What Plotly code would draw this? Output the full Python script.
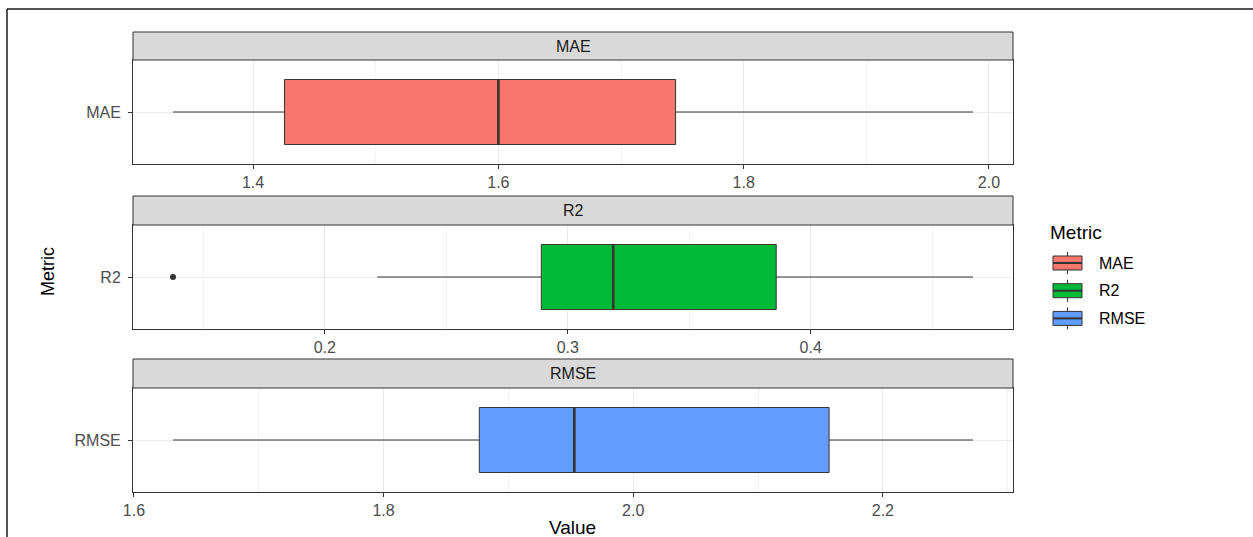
import plotly.graph_objects as go

# Summary statistics per metric (horizontal boxplots, one facet each)
metrics = ["MAE", "R2", "RMSE"]
lower_whisker = [1.3347, 0.2216, 1.6313]
q1_values = [1.4256, 0.2891, 1.8767]
median_values = [1.6000, 0.3187, 1.9528]
q3_values = [1.7445, 0.3858, 2.1569]
upper_whisker = [1.9870, 0.4668, 2.2722]
outliers = {"MAE": [], "R2": [0.1375], "RMSE": []}

fill_colors = ["#F8766D", "#00BA38", "#619CFF"]
major_dtick = [0.2, 0.1, 0.2]

W, H = 1253, 537
DARK = "#333333"
GRID = "#EBEBEB"
MINOR = "#F3F3F3"
FONT = "Liberation Sans, Arial, sans-serif"


def px(x):
    return x / W


def py(y):
    return 1 - y / H


# facet geometry in pixels: (strip top, panel top, panel bottom)
panel_left, panel_right = 133, 1013
facets = [(32, 60, 164), (196, 225, 329), (359, 388, 492)]

fig = go.Figure()
shapes = []
annotations = []
box_width = 0.75

for i, name in enumerate(metrics):
    n = "" if i == 0 else str(i + 1)
    xa, ya = "x" + n, "y" + n

    fig.add_trace(go.Box(
        y=[0], q1=[q1_values[i]], median=[median_values[i]], q3=[q3_values[i]],
        lowerfence=[lower_whisker[i]], upperfence=[upper_whisker[i]],
        orientation="h", width=box_width, whiskerwidth=0, boxpoints=False,
        fillcolor=fill_colors[i], line=dict(color=DARK, width=1),
        xaxis=xa, yaxis=ya, showlegend=False, name=name,
    ))
    # thicker median bar
    fig.add_trace(go.Scatter(
        x=[median_values[i], median_values[i]], y=[-box_width / 2, box_width / 2],
        mode="lines", line=dict(color=DARK, width=2.6),
        xaxis=xa, yaxis=ya, showlegend=False, hoverinfo="skip",
    ))
    if outliers[name]:
        fig.add_trace(go.Scatter(
            x=outliers[name], y=[0] * len(outliers[name]), mode="markers",
            marker=dict(color=DARK, size=6), xaxis=xa, yaxis=ya,
            showlegend=False,
        ))

    # free x scale with 5% expansion, like the faceted layout
    lo = min([lower_whisker[i]] + outliers[name])
    hi = upper_whisker[i]
    pad = 0.05 * (hi - lo)

    strip_top, top, bottom = facets[i]
    axis_common = dict(
        showline=True, mirror=True, linecolor=DARK, linewidth=1,
        ticks="outside", ticklen=4, tickcolor=DARK, tickwidth=1,
        tickfont=dict(family=FONT, size=16, color="#4D4D4D"),
        zeroline=False, showgrid=True, gridcolor=GRID, gridwidth=1,
        automargin=False,
    )
    fig.update_layout(**{
        "xaxis" + n: dict(
            axis_common, domain=[px(panel_left), px(panel_right)], anchor=ya,
            range=[lo - pad, hi + pad], tick0=0, dtick=major_dtick[i],
            tickformat=".1f",
            minor=dict(dtick=major_dtick[i] / 2, showgrid=True,
                       gridcolor=MINOR, gridwidth=1),
        ),
        "yaxis" + n: dict(
            axis_common, domain=[py(bottom), py(top)], anchor=xa,
            range=[-0.6, 0.6], tickvals=[0], ticktext=[name],
            ticklabelstandoff=4,
        ),
    })

    # facet strip
    shapes.append(dict(
        type="rect", xref="paper", yref="paper",
        x0=px(panel_left), x1=px(panel_right), y0=py(top), y1=py(strip_top),
        fillcolor="#D9D9D9", line=dict(color=DARK, width=1), layer="above",
    ))
    annotations.append(dict(
        text=name, xref="paper", yref="paper",
        x=px((panel_left + panel_right) / 2), y=py((strip_top + top) / 2),
        showarrow=False, xanchor="center", yanchor="middle",
        font=dict(family=FONT, size=16, color="#1A1A1A"),
    ))

# axis titles
annotations.append(dict(
    text="Value", xref="paper", yref="paper", x=px(572), y=py(527),
    showarrow=False, xanchor="center", yanchor="middle",
    font=dict(family=FONT, size=19, color="black"),
))
annotations.append(dict(
    text="Metric", xref="paper", yref="paper", x=px(48), y=py(272),
    showarrow=False, xanchor="center", yanchor="middle", textangle=-90,
    font=dict(family=FONT, size=18, color="black"),
))

# legend: title, box keys and labels
annotations.append(dict(
    text="Metric", xref="paper", yref="paper", x=px(1048), y=py(233),
    showarrow=False, xanchor="left", yanchor="middle",
    font=dict(family=FONT, size=19, color="black"),
))
key_x0, key_x1 = 1053, 1082
key_cx = (key_x0 + key_x1) / 2
for i, name in enumerate(metrics):
    cy = 263 + 27.7 * i
    shapes.append(dict(
        type="line", xref="paper", yref="paper",
        x0=px(key_cx), x1=px(key_cx), y0=py(cy - 11), y1=py(cy + 11),
        line=dict(color=DARK, width=1),
    ))
    shapes.append(dict(
        type="rect", xref="paper", yref="paper",
        x0=px(key_x0), x1=px(key_x1), y0=py(cy + 7), y1=py(cy - 7),
        fillcolor=fill_colors[i], line=dict(color=DARK, width=1),
    ))
    shapes.append(dict(
        type="line", xref="paper", yref="paper",
        x0=px(key_x0), x1=px(key_x1), y0=py(cy), y1=py(cy),
        line=dict(color=DARK, width=2),
    ))
    annotations.append(dict(
        text=name, xref="paper", yref="paper", x=px(1097), y=py(cy),
        showarrow=False, xanchor="left", yanchor="middle",
        font=dict(family=FONT, size=16, color="black"),
    ))

# outer frame lines along the top and left edges
shapes.append(dict(type="line", xref="paper", yref="paper",
                   x0=px(7), x1=1, y0=py(9), y1=py(9),
                   line=dict(color="#1A1A1A", width=1.5)))
shapes.append(dict(type="line", xref="paper", yref="paper",
                   x0=px(7), x1=px(7), y0=py(9), y1=0,
                   line=dict(color="#1A1A1A", width=1.5)))

fig.update_layout(
    template="none",
    width=W, height=H, margin=dict(l=0, r=0, t=0, b=0, autoexpand=False),
    paper_bgcolor="white", plot_bgcolor="white",
    shapes=shapes, annotations=annotations, showlegend=False,
    font=dict(family=FONT),
)

fig.write_html("out.html")
